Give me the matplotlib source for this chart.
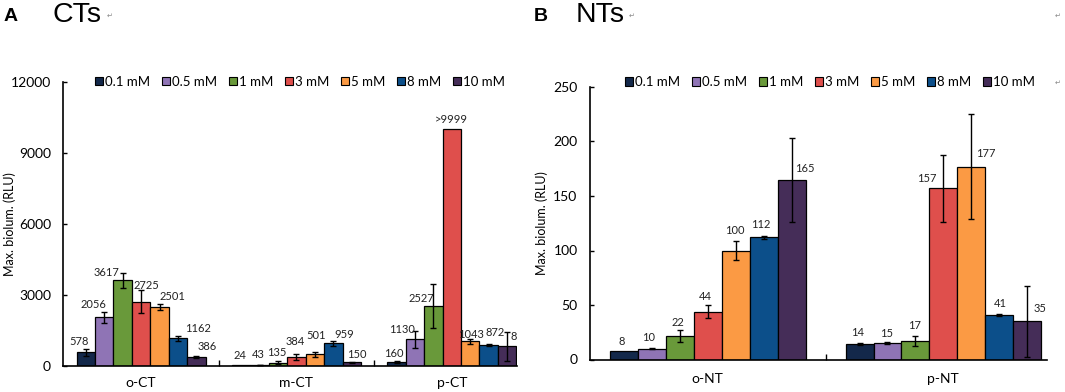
import numpy as np
import matplotlib
matplotlib.use("Agg")
import matplotlib.pyplot as plt
from matplotlib.patches import Patch

plt.rcParams["font.family"] = ["Lato", "DejaVu Sans"]

# concentrations / colours
concs = ["0.1 mM", "0.5 mM", "1 mM", "3 mM", "5 mM", "8 mM", "10 mM"]
colors = ["#13284a", "#8f74b5", "#69993a", "#df4f4c", "#fb9a44", "#0c4f8a", "#452d58"]

# panel A - CTs
ct_groups = ["o-CT", "m-CT", "p-CT"]
ct_vals = [[578, 2056, 3617, 2725, 2501, 1162, 386],
           [24, 43, 135, 384, 501, 959, 150],
           [160, 1130, 2527, 10000, 1043, 872, 840]]
ct_err = [[150, 230, 330, 470, 120, 120, 50],
          [0, 5, 70, 110, 110, 110, 40],
          [40, 350, 920, 0, 115, 40, 610]]
ct_text = [["578", "2056", "3617", "2725", "2501", "1162", "386"],
           ["24", "43", "135", "384", "501", "959", "150"],
           ["160", "1130", "2527", ">9999", "1043", "872", "8"]]

# panel B - NTs
nt_groups = ["o-NT", "p-NT"]
nt_vals = [[8, 10, 22, 44, 100, 112, 165],
           [14, 15, 17, 157, 177, 41, 35]]
nt_err = [[0, 0.6, 5.5, 6.3, 9, 1, 38.5],
          [1, 1, 4.9, 30.6, 48, 1, 32.8]]
nt_text = [["8", "10", "22", "44", "100", "112", "165"],
           ["14", "15", "17", "157", "177", "41", "35"]]

# label nudges (pixels) relative to bar centre / bar top
ct_dx = [[-7, -11, -16, 5, 13, 20, 11], [-1, -1, -1, -1, 1, 11, 5], [-3, -13, -12, -1, 1, 6, 7]]
ct_dy = [[11, 13, 8, 16, 10, 10, 10], [10, 10, 10, 15, 19, 9, 8], [9, 10, 8, 10, 7, 13, 10]]
nt_dx = [[-2, -3, -2, -2, -1, -3, 13], [-2, -1, -1, -17, 15, 1, 13]]
nt_dy = [[9, 11, 13, 15, 20, 13, 11], [12, 10, 15, 10, 13, 11, 13]]

W, H = 1065, 392
fig = plt.figure(figsize=(W / 100, H / 100), dpi=100)

def px(x0, y0, x1, y1):
    return [x0 / W, 1 - y1 / H, (x1 - x0) / W, (y1 - y0) / H]

axA = fig.add_axes(px(63.4, 82, 516.6, 366))
axB = fig.add_axes(px(590, 87, 1046.5, 359.5))

bw = 0.83 / 7


def draw(ax, groups, vals, errs, texts, dxs, dys, ymax, step, xmax, tickpad):
    x = np.arange(len(groups))
    for k in range(7):
        xs = x + (k - 3) * bw
        v = np.array([row[k] for row in vals], dtype=float)
        e = np.array([row[k] for row in errs], dtype=float)
        ax.bar(xs, v, width=bw, color=colors[k], edgecolor="black", linewidth=0.9,
               zorder=2)
        m = e > 0
        if m.any():
            ax.errorbar(xs[m], v[m], yerr=e[m], fmt="none", ecolor="black",
                        elinewidth=1, capsize=2.2, capthick=1, zorder=3)
        for g in range(len(groups)):
            ax.annotate(texts[g][k], (xs[g], v[g]), xytext=(dxs[g][k], dys[g][k]),
                        textcoords="offset pixels", ha="center", va="center",
                        fontsize=8, color="#222222", zorder=4)
    ax.set_xlim(-0.5, xmax)
    ax.set_ylim(0, ymax)
    ax.set_yticks(np.arange(0, ymax + 1, step))
    ax.set_xticks(x)
    ax.set_xticklabels(groups)
    ax.set_xticks(x[:-1] + 0.5, minor=True)
    ax.tick_params(axis="x", which="major", length=0, labelsize=10, pad=tickpad)
    ax.tick_params(axis="x", which="minor", direction="in", length=4, width=1)
    ax.tick_params(axis="y", direction="in", length=3, width=1, labelsize=10, pad=9)
    for s in ["top", "right"]:
        ax.spines[s].set_visible(False)
    for s in ["left", "bottom"]:
        ax.spines[s].set_linewidth(1.2)
    ax.set_ylabel("Max. biolum. (RLU)", fontsize=9)


draw(axA, ct_groups, ct_vals, ct_err, ct_text, ct_dx, ct_dy, 12000, 3000, 2.417, 8)
draw(axB, nt_groups, nt_vals, nt_err, nt_text, nt_dx, nt_dy, 250, 50, 1.438, 10)
axA.yaxis.set_label_coords(-0.105, 0.5)
axB.yaxis.set_label_coords(-0.092, 0.5)

handles = [Patch(facecolor=c, edgecolor="black", linewidth=0.8) for c in colors]
for cx, cy in [(0.2818, 0.7918), (0.7793, 0.7908)]:
    fig.legend(handles, concs, loc="center", bbox_to_anchor=(cx, cy), ncol=7,
               frameon=False, fontsize=9.5, handlelength=0.6, handleheight=0.6,
               handletextpad=0.15, columnspacing=0.9, borderpad=0)

# panel titles
fig.text(4 / W, 1 - 20.7 / H, "A", fontsize=14, fontweight="bold",
         family="Liberation Sans", va="baseline")
fig.text(52 / W, 1 - 22.4 / H, "CTs", fontsize=20.5, family="Liberation Sans",
         va="baseline")
fig.text(534 / W, 1 - 20.7 / H, "B", fontsize=14, fontweight="bold",
         family="Liberation Sans", va="baseline")
fig.text(576 / W, 1 - 22.4 / H, "NTs", fontsize=20.5, family="Liberation Sans",
         va="baseline")
for mx, my in [(107, 18), (629, 18), (1055, 18), (1055, 85)]:
    fig.text(mx / W, 1 - my / H, "\u21b5", fontsize=5, color="#888888",
             family="DejaVu Sans", va="baseline")

fig.savefig("out.png", dpi=100)
